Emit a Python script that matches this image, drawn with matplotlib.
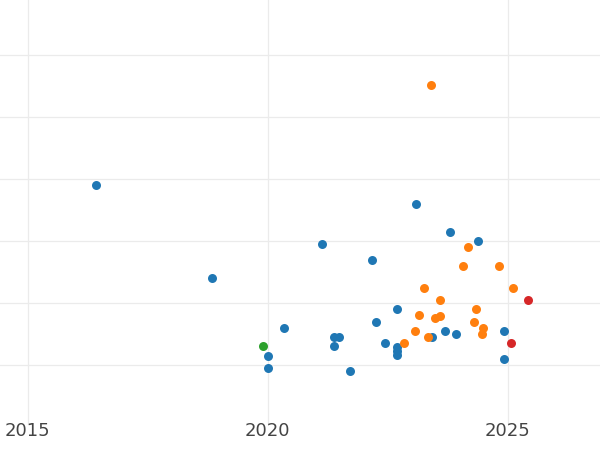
import matplotlib
matplotlib.use("Agg")
import matplotlib.pyplot as plt

# values (year, score)
blue_x = [2016.42, 2018.83, 2020.33, 2020.0, 2020.0, 2021.13, 2021.38, 2021.48, 2021.38,
          2021.71, 2022.17, 2022.25, 2022.44, 2022.69, 2022.69, 2022.69, 2022.69, 2023.08,
          2023.42, 2023.69, 2023.79, 2023.92, 2024.38, 2024.92, 2024.92]
blue_y = [3.90, 2.40, 1.60, 1.15, 0.95, 2.95, 1.45, 1.45, 1.31,
          0.90, 2.69, 1.69, 1.35, 1.90, 1.29, 1.23, 1.16, 3.60,
          1.45, 1.55, 3.15, 1.50, 3.00, 1.55, 1.10]
orange_x = [2023.40, 2022.83, 2023.06, 2023.15, 2023.25, 2023.33, 2023.48, 2023.58, 2023.58,
            2024.06, 2024.17, 2024.29, 2024.33, 2024.46, 2024.48, 2024.81, 2025.10]
orange_y = [5.52, 1.35, 1.55, 1.81, 2.24, 1.45, 1.76, 2.05, 1.79,
            2.60, 2.90, 1.69, 1.90, 1.50, 1.60, 2.60, 2.24]
green_x = [2019.90]
green_y = [1.31]
red_x = [2025.42, 2025.06]
red_y = [2.05, 1.35]

fig = plt.figure(figsize=(6, 4.5), dpi=100)
ax = fig.add_axes([0, 0.055, 1, 0.945])
for xs, ys, c in [(blue_x, blue_y, "#1f77b4"), (orange_x, orange_y, "#ff7f0e"),
                  (green_x, green_y, "#2ca02c"), (red_x, red_y, "#d62728")]:
    ax.scatter(xs, ys, s=42, color=c, zorder=3, linewidths=0)

ax.set_xlim(2014.42, 2026.92)
ax.set_ylim(0.03, 6.89)
ax.set_xticks([2015, 2020, 2025])
ax.set_yticks([1, 2, 3, 4, 5, 6])
ax.tick_params(axis="y", left=False, labelleft=False)
ax.tick_params(axis="x", length=0, labelsize=13, colors="#444444", pad=-2)
ax.grid(True, color="#ebebeb", lw=0.9)
ax.set_axisbelow(True)
for sp in ax.spines.values():
    sp.set_visible(False)
fig.savefig("out.png")
